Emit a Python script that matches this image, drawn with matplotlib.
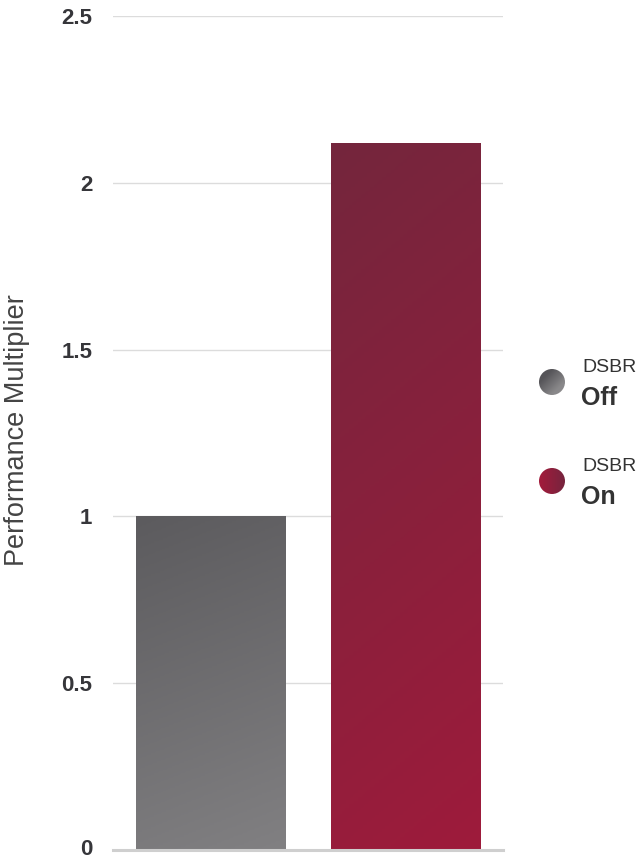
import numpy as np
import matplotlib.pyplot as plt
import matplotlib.transforms as mtransforms
from matplotlib.patches import Circle
from matplotlib.colors import LinearSegmentedColormap

plt.rcParams['font.family'] = ['Liberation Sans', 'DejaVu Sans']

# Data
modes = ['Off', 'On']
multipliers = [1.0, 2.12]
yticks = [0, 0.5, 1, 1.5, 2, 2.5]
ytick_labels = ['0', '0.5', '1', '1.5', '2', '2.5']
legend_title = 'DSBR'

# gradient endpoints (top, bottom) per bar
grad_colors = [('#5c5b5e', '#818082'), ('#74263d', '#9e1b3b')]
# dot gradients (start, end)
dot_colors = [('#555458', '#8a898b'), ('#a31b3b', '#76243e')]

W, H = 636, 861
fig = plt.figure(figsize=(W / 100, H / 100), dpi=100)
ax = fig.add_axes([113 / W, 11 / H, 390 / W, 834 / H])

x = np.arange(len(modes))
bars = ax.bar(x, multipliers, width=0.768, color='none', zorder=3)

# fill each bar with a diagonal gradient clipped to its rectangle
yy, xx = np.mgrid[0:1:200j, 0:1:100j]
for bar, (c_top, c_bot) in zip(bars, grad_colors):
    cmap = LinearSegmentedColormap.from_list('g', [c_bot, c_top])
    grad = 0.85 * yy + 0.15 * (1 - xx)
    x0, y0 = bar.get_x(), bar.get_y()
    im = ax.imshow(grad, cmap=cmap, origin='lower', aspect='auto',
                   extent=[x0, x0 + bar.get_width(), y0, y0 + bar.get_height()],
                   zorder=3, vmin=0, vmax=1)
    im.set_clip_path(bar)

ax.set_xlim(-0.505, 1.505)
ax.set_ylim(0, 2.5)
ax.set_yticks(yticks)
ax.set_yticklabels(ytick_labels, fontsize=16, fontweight='bold', color='#36363a')
ax.set_xticks([])
ax.tick_params(axis='y', length=0, pad=15)
ax.grid(axis='y', color='#dcdcdc', linewidth=1, zorder=0)
for s in ax.spines.values():
    s.set_visible(False)
ax.axhline(0, color='#cfcfcf', linewidth=2.2, zorder=4, clip_on=False)

# keep the "0" label inside the bottom edge
lbl0 = ax.get_yticklabels()[0]
lbl0.set_transform(lbl0.get_transform() +
                   mtransforms.ScaledTranslation(0, 2 / 72, fig.dpi_scale_trans))

fig.text(17 / W, 1 - 430 / H, 'Performance Multiplier', rotation=90,
         fontsize=19.5, color='#444444', ha='center', va='center')

# legend: gradient dots with two-line labels
r = 13
for (c0, c1), label, yc in zip(dot_colors, modes, [382, 481]):
    dax = fig.add_axes([(552 - r) / W, (H - yc - r) / H, 2 * r / W, 2 * r / H])
    dax.set_axis_off()
    dax.set_xlim(-1, 1)
    dax.set_ylim(-1, 1)
    cmap = LinearSegmentedColormap.from_list('d', [c0, c1])
    gy, gx = np.mgrid[1:-1:60j, -1:1:60j]
    dot = Circle((0, 0), 1, transform=dax.transData)
    diag = 1.0 if label == 'Off' else 0.0
    img = dax.imshow(0.5 * (gx - diag * gy) + 0.5, cmap=cmap,
                     extent=[-1, 1, -1, 1], vmin=0, vmax=1)
    img.set_clip_path(dot)
    fig.text(582 / W, 1 - (yc - 10) / H, legend_title, fontsize=14,
             color='#333333', va='baseline', ha='left')
    fig.text(581 / W, 1 - (yc + 23) / H, label, fontsize=18, fontweight='bold',
             color='#333333', va='baseline', ha='left')

fig.savefig('out.png', dpi=100)
